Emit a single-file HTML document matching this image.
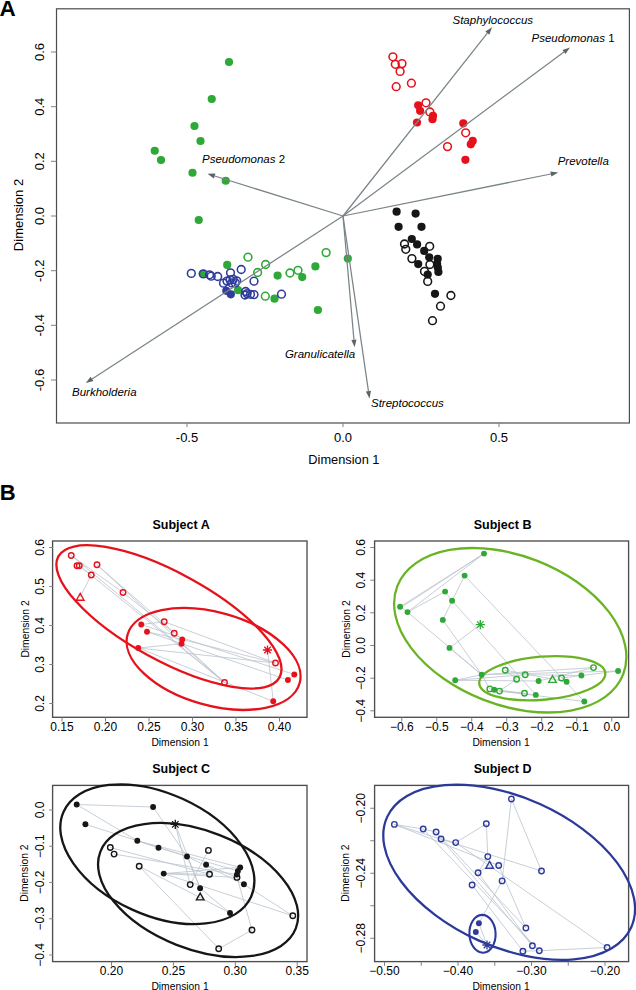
<!DOCTYPE html>
<html><head><meta charset="utf-8"><style>
html,body{margin:0;padding:0;background:#fff;}
body{width:636px;height:990px;overflow:hidden;}
svg{display:block;font-family:"Liberation Sans", sans-serif;}
</style></head><body>
<svg width="636" height="990" viewBox="0 0 636 990" font-family='"Liberation Sans", sans-serif'>
<rect width="636" height="990" fill="#fff"/>
<text x="-0.4" y="15.8" font-size="22.5" text-anchor="start" font-weight="bold" fill="#000">A</text>
<rect x="56.5" y="8.8" width="572.9" height="414.2" fill="none" stroke="#4d4d4d" stroke-width="1.2"/>
<line x1="51" y1="52" x2="56.5" y2="52" stroke="#7a8288" stroke-width="1"/>
<text x="44.3" y="52" font-size="13" text-anchor="middle" transform="rotate(-90 44.3 52)" fill="#000">0.6</text>
<line x1="51" y1="106.7" x2="56.5" y2="106.7" stroke="#7a8288" stroke-width="1"/>
<text x="44.3" y="106.7" font-size="13" text-anchor="middle" transform="rotate(-90 44.3 106.7)" fill="#000">0.4</text>
<line x1="51" y1="161.3" x2="56.5" y2="161.3" stroke="#7a8288" stroke-width="1"/>
<text x="44.3" y="161.3" font-size="13" text-anchor="middle" transform="rotate(-90 44.3 161.3)" fill="#000">0.2</text>
<line x1="51" y1="216" x2="56.5" y2="216" stroke="#7a8288" stroke-width="1"/>
<text x="44.3" y="216" font-size="13" text-anchor="middle" transform="rotate(-90 44.3 216)" fill="#000">0.0</text>
<line x1="51" y1="270.7" x2="56.5" y2="270.7" stroke="#7a8288" stroke-width="1"/>
<text x="44.3" y="270.7" font-size="13" text-anchor="middle" transform="rotate(-90 44.3 270.7)" fill="#000">-0.2</text>
<line x1="51" y1="325.3" x2="56.5" y2="325.3" stroke="#7a8288" stroke-width="1"/>
<text x="44.3" y="325.3" font-size="13" text-anchor="middle" transform="rotate(-90 44.3 325.3)" fill="#000">-0.4</text>
<line x1="51" y1="380" x2="56.5" y2="380" stroke="#7a8288" stroke-width="1"/>
<text x="44.3" y="380" font-size="13" text-anchor="middle" transform="rotate(-90 44.3 380)" fill="#000">-0.6</text>
<line x1="187" y1="423" x2="187" y2="427" stroke="#7a8288" stroke-width="1"/>
<text x="187" y="442" font-size="13" text-anchor="middle" fill="#000">-0.5</text>
<line x1="343" y1="423" x2="343" y2="427" stroke="#7a8288" stroke-width="1"/>
<text x="343" y="442" font-size="13" text-anchor="middle" fill="#000">0.0</text>
<line x1="499" y1="423" x2="499" y2="427" stroke="#7a8288" stroke-width="1"/>
<text x="499" y="442" font-size="13" text-anchor="middle" fill="#000">0.5</text>
<text x="343.9" y="463.7" font-size="12.8" text-anchor="middle" fill="#000">Dimension 1</text>
<text x="22.6" y="215" font-size="13" text-anchor="middle" transform="rotate(-90 22.6 215)" fill="#000">Dimension 2</text>
<circle cx="229" cy="62" r="4.1" fill="#2ea836"/>
<circle cx="211.75" cy="99" r="4.1" fill="#2ea836"/>
<circle cx="194.5" cy="126" r="4.1" fill="#2ea836"/>
<circle cx="200.5" cy="141" r="4.1" fill="#2ea836"/>
<circle cx="154.75" cy="150.75" r="4.1" fill="#2ea836"/>
<circle cx="161" cy="160" r="4.1" fill="#2ea836"/>
<circle cx="192.5" cy="172.75" r="4.1" fill="#2ea836"/>
<circle cx="225.75" cy="180.75" r="4.1" fill="#2ea836"/>
<circle cx="198.75" cy="220" r="4.1" fill="#2ea836"/>
<circle cx="227.2" cy="264.9" r="4.1" fill="#2ea836"/>
<circle cx="202.8" cy="273.8" r="4.1" fill="#2ea836"/>
<circle cx="238" cy="290.2" r="4.1" fill="#2ea836"/>
<circle cx="277.6" cy="275.6" r="4.1" fill="#2ea836"/>
<circle cx="302.2" cy="277.1" r="4.1" fill="#2ea836"/>
<circle cx="315.4" cy="266.4" r="4.1" fill="#2ea836"/>
<circle cx="274.5" cy="298.7" r="4.1" fill="#2ea836"/>
<circle cx="317.9" cy="310" r="4.1" fill="#2ea836"/>
<circle cx="347.8" cy="258.6" r="4.1" fill="#2ea836"/>
<circle cx="248" cy="257.2" r="3.875" fill="none" stroke="#2ea836" stroke-width="1.55"/>
<circle cx="265.6" cy="264.5" r="3.875" fill="none" stroke="#2ea836" stroke-width="1.55"/>
<circle cx="257.6" cy="272.5" r="3.875" fill="none" stroke="#2ea836" stroke-width="1.55"/>
<circle cx="290" cy="273" r="3.875" fill="none" stroke="#2ea836" stroke-width="1.55"/>
<circle cx="298" cy="270.3" r="3.875" fill="none" stroke="#2ea836" stroke-width="1.55"/>
<circle cx="265.3" cy="296.2" r="3.875" fill="none" stroke="#2ea836" stroke-width="1.55"/>
<circle cx="326.1" cy="252.6" r="3.875" fill="none" stroke="#2ea836" stroke-width="1.55"/>
<circle cx="191.3" cy="273.4" r="3.875" fill="none" stroke="#2f3c9c" stroke-width="1.55"/>
<circle cx="203.3" cy="273.9" r="3.875" fill="none" stroke="#2f3c9c" stroke-width="1.55"/>
<circle cx="209.5" cy="274.8" r="3.875" fill="none" stroke="#2f3c9c" stroke-width="1.55"/>
<circle cx="211.2" cy="276.2" r="3.875" fill="none" stroke="#2f3c9c" stroke-width="1.55"/>
<circle cx="217.7" cy="276.5" r="3.875" fill="none" stroke="#2f3c9c" stroke-width="1.55"/>
<circle cx="230.5" cy="272.8" r="3.875" fill="none" stroke="#2f3c9c" stroke-width="1.55"/>
<circle cx="241.2" cy="269.5" r="3.875" fill="none" stroke="#2f3c9c" stroke-width="1.55"/>
<circle cx="223.5" cy="283.2" r="3.875" fill="none" stroke="#2f3c9c" stroke-width="1.55"/>
<circle cx="227" cy="281.1" r="3.875" fill="none" stroke="#2f3c9c" stroke-width="1.55"/>
<circle cx="230.1" cy="279.8" r="3.875" fill="none" stroke="#2f3c9c" stroke-width="1.55"/>
<circle cx="233.2" cy="279.4" r="3.875" fill="none" stroke="#2f3c9c" stroke-width="1.55"/>
<circle cx="236.7" cy="280.8" r="3.875" fill="none" stroke="#2f3c9c" stroke-width="1.55"/>
<circle cx="235.3" cy="282.9" r="3.875" fill="none" stroke="#2f3c9c" stroke-width="1.55"/>
<circle cx="231.8" cy="282.9" r="3.875" fill="none" stroke="#2f3c9c" stroke-width="1.55"/>
<circle cx="254" cy="281.2" r="3.875" fill="none" stroke="#2f3c9c" stroke-width="1.55"/>
<circle cx="245.7" cy="291.5" r="3.875" fill="none" stroke="#2f3c9c" stroke-width="1.55"/>
<circle cx="247.1" cy="293.6" r="3.875" fill="none" stroke="#2f3c9c" stroke-width="1.55"/>
<circle cx="250.5" cy="294.3" r="3.875" fill="none" stroke="#2f3c9c" stroke-width="1.55"/>
<circle cx="254" cy="294.6" r="3.875" fill="none" stroke="#2f3c9c" stroke-width="1.55"/>
<circle cx="245" cy="295" r="3.875" fill="none" stroke="#2f3c9c" stroke-width="1.55"/>
<circle cx="281.5" cy="294.2" r="3.875" fill="none" stroke="#2f3c9c" stroke-width="1.55"/>
<circle cx="226.3" cy="290.8" r="4.1" fill="#2f3c9c"/>
<circle cx="230.8" cy="294.3" r="4.1" fill="#2f3c9c"/>
<circle cx="418.2" cy="105.3" r="4.1" fill="#e6121b"/>
<circle cx="420.1" cy="110.8" r="4.1" fill="#e6121b"/>
<circle cx="417" cy="122.5" r="4.1" fill="#e6121b"/>
<circle cx="433" cy="115.8" r="4.1" fill="#e6121b"/>
<circle cx="432.5" cy="119.2" r="4.1" fill="#e6121b"/>
<circle cx="463.3" cy="123.3" r="4.1" fill="#e6121b"/>
<circle cx="472.7" cy="140.9" r="4.1" fill="#e6121b"/>
<circle cx="470.8" cy="144.3" r="4.1" fill="#e6121b"/>
<circle cx="465.4" cy="159.8" r="4.1" fill="#e6121b"/>
<circle cx="392.9" cy="56.8" r="3.875" fill="none" stroke="#e6121b" stroke-width="1.55"/>
<circle cx="395.3" cy="64.3" r="3.875" fill="none" stroke="#e6121b" stroke-width="1.55"/>
<circle cx="402" cy="63.6" r="3.875" fill="none" stroke="#e6121b" stroke-width="1.55"/>
<circle cx="400.1" cy="71.4" r="3.875" fill="none" stroke="#e6121b" stroke-width="1.55"/>
<circle cx="396.2" cy="86.7" r="3.875" fill="none" stroke="#e6121b" stroke-width="1.55"/>
<circle cx="411.4" cy="83.2" r="3.875" fill="none" stroke="#e6121b" stroke-width="1.55"/>
<circle cx="426" cy="102.8" r="3.875" fill="none" stroke="#e6121b" stroke-width="1.55"/>
<circle cx="429.9" cy="112" r="3.875" fill="none" stroke="#e6121b" stroke-width="1.55"/>
<circle cx="465.7" cy="132.8" r="3.875" fill="none" stroke="#e6121b" stroke-width="1.55"/>
<circle cx="447.5" cy="146.6" r="3.875" fill="none" stroke="#e6121b" stroke-width="1.55"/>
<circle cx="396.6" cy="211.7" r="4.1" fill="#161616"/>
<circle cx="415.6" cy="213.6" r="4.1" fill="#161616"/>
<circle cx="398.6" cy="226.8" r="4.1" fill="#161616"/>
<circle cx="421.5" cy="226.8" r="4.1" fill="#161616"/>
<circle cx="411.8" cy="239" r="4.1" fill="#161616"/>
<circle cx="417.1" cy="244.4" r="4.1" fill="#161616"/>
<circle cx="424.2" cy="250.9" r="4.1" fill="#161616"/>
<circle cx="429.2" cy="257.3" r="4.1" fill="#161616"/>
<circle cx="418.2" cy="264.1" r="4.1" fill="#161616"/>
<circle cx="437.7" cy="258.8" r="4.1" fill="#161616"/>
<circle cx="437.1" cy="263.8" r="4.1" fill="#161616"/>
<circle cx="437.8" cy="267.5" r="4.1" fill="#161616"/>
<circle cx="438.4" cy="272" r="4.1" fill="#161616"/>
<circle cx="427.7" cy="274.5" r="4.1" fill="#161616"/>
<circle cx="435" cy="293.8" r="4.1" fill="#161616"/>
<circle cx="404.5" cy="244" r="3.875" fill="none" stroke="#161616" stroke-width="1.55"/>
<circle cx="405.8" cy="249.3" r="3.875" fill="none" stroke="#161616" stroke-width="1.55"/>
<circle cx="429.7" cy="246.3" r="3.875" fill="none" stroke="#161616" stroke-width="1.55"/>
<circle cx="411.9" cy="258.6" r="3.875" fill="none" stroke="#161616" stroke-width="1.55"/>
<circle cx="429.9" cy="264.5" r="3.875" fill="none" stroke="#161616" stroke-width="1.55"/>
<circle cx="424.5" cy="271.4" r="3.875" fill="none" stroke="#161616" stroke-width="1.55"/>
<circle cx="427.7" cy="281.4" r="3.875" fill="none" stroke="#161616" stroke-width="1.55"/>
<circle cx="450.9" cy="295.5" r="3.875" fill="none" stroke="#161616" stroke-width="1.55"/>
<circle cx="440.5" cy="306.2" r="3.875" fill="none" stroke="#161616" stroke-width="1.55"/>
<circle cx="432.5" cy="320.7" r="3.875" fill="none" stroke="#161616" stroke-width="1.55"/>
<line x1="343" y1="216" x2="487.35" y2="33.19" stroke="#7a8488" stroke-width="1.25"/>
<path d="M492.00,27.30 L489.39,34.80 L485.31,31.57 Z" fill="#5d6468"/>
<line x1="343" y1="216" x2="563.98" y2="51.97" stroke="#7a8488" stroke-width="1.25"/>
<path d="M570.00,47.50 L565.53,54.06 L562.43,49.88 Z" fill="#5d6468"/>
<line x1="343" y1="216" x2="550.85" y2="173.99" stroke="#7a8488" stroke-width="1.25"/>
<path d="M558.20,172.50 L551.36,176.53 L550.33,171.44 Z" fill="#5d6468"/>
<line x1="343" y1="216" x2="214.66" y2="175.98" stroke="#7a8488" stroke-width="1.25"/>
<path d="M207.50,173.75 L215.43,173.50 L213.89,178.46 Z" fill="#5d6468"/>
<line x1="343" y1="216" x2="92.04" y2="378.92" stroke="#7a8488" stroke-width="1.25"/>
<path d="M85.75,383.00 L90.62,376.74 L93.46,381.10 Z" fill="#5d6468"/>
<line x1="343" y1="216" x2="353.94" y2="339.73" stroke="#7a8488" stroke-width="1.25"/>
<path d="M354.60,347.20 L351.35,339.96 L356.53,339.50 Z" fill="#5d6468"/>
<line x1="343" y1="216" x2="368.42" y2="391.18" stroke="#7a8488" stroke-width="1.25"/>
<path d="M369.50,398.60 L365.85,391.55 L371.00,390.80 Z" fill="#5d6468"/>
<text x="452.5" y="24" font-size="11.5" text-anchor="start" font-style="italic" fill="#000">Staphylococcus</text>
<text x="531.5" y="41.8" font-size="11.5" font-style="italic">Pseudomonas<tspan font-style="normal"> 1</tspan></text>
<text x="557.7" y="164.8" font-size="11.5" text-anchor="start" font-style="italic" fill="#000">Prevotella</text>
<text x="202" y="163.3" font-size="11.5" font-style="italic">Pseudomonas<tspan font-style="normal"> 2</tspan></text>
<text x="72" y="395.5" font-size="11.5" text-anchor="start" font-style="italic" fill="#000">Burkholderia</text>
<text x="284.9" y="358.3" font-size="11.5" text-anchor="start" font-style="italic" fill="#000">Granulicatella</text>
<text x="371" y="406.7" font-size="11.5" text-anchor="start" font-style="italic" fill="#000">Streptococcus</text>
<text x="-0.2" y="500.1" font-size="22" text-anchor="start" font-weight="bold" fill="#000">B</text>
<text x="181.1" y="528.5" font-size="12.5" text-anchor="middle" font-weight="bold" fill="#000">Subject A</text>
<rect x="52.6" y="541.0" width="254.4" height="176.29999999999995" fill="none" stroke="#4d4d4d" stroke-width="1.35"/>
<line x1="62" y1="717.5" x2="62" y2="721.5" stroke="#7a8288" stroke-width="1"/>
<text x="62" y="730.5" font-size="12" text-anchor="middle" fill="#000">0.15</text>
<line x1="105.5" y1="717.5" x2="105.5" y2="721.5" stroke="#7a8288" stroke-width="1"/>
<text x="105.5" y="730.5" font-size="12" text-anchor="middle" fill="#000">0.20</text>
<line x1="149" y1="717.5" x2="149" y2="721.5" stroke="#7a8288" stroke-width="1"/>
<text x="149" y="730.5" font-size="12" text-anchor="middle" fill="#000">0.25</text>
<line x1="192.5" y1="717.5" x2="192.5" y2="721.5" stroke="#7a8288" stroke-width="1"/>
<text x="192.5" y="730.5" font-size="12" text-anchor="middle" fill="#000">0.30</text>
<line x1="236" y1="717.5" x2="236" y2="721.5" stroke="#7a8288" stroke-width="1"/>
<text x="236" y="730.5" font-size="12" text-anchor="middle" fill="#000">0.35</text>
<line x1="279.5" y1="717.5" x2="279.5" y2="721.5" stroke="#7a8288" stroke-width="1"/>
<text x="279.5" y="730.5" font-size="12" text-anchor="middle" fill="#000">0.40</text>
<line x1="49.3" y1="547.5" x2="53" y2="547.5" stroke="#7a8288" stroke-width="1"/>
<text x="43.7" y="547.5" font-size="12" text-anchor="middle" transform="rotate(-90 43.7 547.5)" fill="#000">0.6</text>
<line x1="49.3" y1="586.5" x2="53" y2="586.5" stroke="#7a8288" stroke-width="1"/>
<text x="43.7" y="586.5" font-size="12" text-anchor="middle" transform="rotate(-90 43.7 586.5)" fill="#000">0.5</text>
<line x1="49.3" y1="625.5" x2="53" y2="625.5" stroke="#7a8288" stroke-width="1"/>
<text x="43.7" y="625.5" font-size="12" text-anchor="middle" transform="rotate(-90 43.7 625.5)" fill="#000">0.4</text>
<line x1="49.3" y1="664.5" x2="53" y2="664.5" stroke="#7a8288" stroke-width="1"/>
<text x="43.7" y="664.5" font-size="12" text-anchor="middle" transform="rotate(-90 43.7 664.5)" fill="#000">0.3</text>
<line x1="49.3" y1="703.5" x2="53" y2="703.5" stroke="#7a8288" stroke-width="1"/>
<text x="43.7" y="703.5" font-size="12" text-anchor="middle" transform="rotate(-90 43.7 703.5)" fill="#000">0.2</text>
<text x="180.0" y="745.5" font-size="10.3" text-anchor="middle" fill="#000">Dimension 1</text>
<text x="28.5" y="629.0" font-size="10.3" text-anchor="middle" transform="rotate(-90 28.5 629.0)" fill="#000">Dimension 2</text>
<text x="502.6" y="528.5" font-size="12.5" text-anchor="middle" font-weight="bold" fill="#000">Subject B</text>
<rect x="374.6" y="541.0" width="254.0" height="176.29999999999995" fill="none" stroke="#4d4d4d" stroke-width="1.35"/>
<line x1="401.75" y1="717.5" x2="401.75" y2="721.5" stroke="#7a8288" stroke-width="1"/>
<text x="401.75" y="730.5" font-size="12" text-anchor="middle" fill="#000">−0.6</text>
<line x1="436.75" y1="717.5" x2="436.75" y2="721.5" stroke="#7a8288" stroke-width="1"/>
<text x="436.75" y="730.5" font-size="12" text-anchor="middle" fill="#000">−0.5</text>
<line x1="471.75" y1="717.5" x2="471.75" y2="721.5" stroke="#7a8288" stroke-width="1"/>
<text x="471.75" y="730.5" font-size="12" text-anchor="middle" fill="#000">−0.4</text>
<line x1="506.75" y1="717.5" x2="506.75" y2="721.5" stroke="#7a8288" stroke-width="1"/>
<text x="506.75" y="730.5" font-size="12" text-anchor="middle" fill="#000">−0.3</text>
<line x1="541.75" y1="717.5" x2="541.75" y2="721.5" stroke="#7a8288" stroke-width="1"/>
<text x="541.75" y="730.5" font-size="12" text-anchor="middle" fill="#000">−0.2</text>
<line x1="576.75" y1="717.5" x2="576.75" y2="721.5" stroke="#7a8288" stroke-width="1"/>
<text x="576.75" y="730.5" font-size="12" text-anchor="middle" fill="#000">−0.1</text>
<line x1="611.75" y1="717.5" x2="611.75" y2="721.5" stroke="#7a8288" stroke-width="1"/>
<text x="611.75" y="730.5" font-size="12" text-anchor="middle" fill="#000">0.0</text>
<line x1="370.3" y1="547.5" x2="374" y2="547.5" stroke="#7a8288" stroke-width="1"/>
<text x="364.7" y="547.5" font-size="12" text-anchor="middle" transform="rotate(-90 364.7 547.5)" fill="#000">0.6</text>
<line x1="370.3" y1="580.2" x2="374" y2="580.2" stroke="#7a8288" stroke-width="1"/>
<text x="364.7" y="580.2" font-size="12" text-anchor="middle" transform="rotate(-90 364.7 580.2)" fill="#000">0.4</text>
<line x1="370.3" y1="612.8" x2="374" y2="612.8" stroke="#7a8288" stroke-width="1"/>
<text x="364.7" y="612.8" font-size="12" text-anchor="middle" transform="rotate(-90 364.7 612.8)" fill="#000">0.2</text>
<line x1="370.3" y1="645.5" x2="374" y2="645.5" stroke="#7a8288" stroke-width="1"/>
<text x="364.7" y="645.5" font-size="12" text-anchor="middle" transform="rotate(-90 364.7 645.5)" fill="#000">0.0</text>
<line x1="370.3" y1="678.2" x2="374" y2="678.2" stroke="#7a8288" stroke-width="1"/>
<text x="364.7" y="678.2" font-size="12" text-anchor="middle" transform="rotate(-90 364.7 678.2)" fill="#000">−0.2</text>
<line x1="370.3" y1="710.8" x2="374" y2="710.8" stroke="#7a8288" stroke-width="1"/>
<text x="364.7" y="710.8" font-size="12" text-anchor="middle" transform="rotate(-90 364.7 710.8)" fill="#000">−0.4</text>
<text x="501.0" y="745.5" font-size="10.3" text-anchor="middle" fill="#000">Dimension 1</text>
<text x="349.5" y="629.0" font-size="10.3" text-anchor="middle" transform="rotate(-90 349.5 629.0)" fill="#000">Dimension 2</text>
<text x="181.1" y="772.5" font-size="12.5" text-anchor="middle" font-weight="bold" fill="#000">Subject C</text>
<rect x="52.6" y="785.4" width="254.4" height="176.20000000000005" fill="none" stroke="#4d4d4d" stroke-width="1.35"/>
<line x1="111.5" y1="961.8" x2="111.5" y2="965.8" stroke="#7a8288" stroke-width="1"/>
<text x="111.5" y="974.8" font-size="12" text-anchor="middle" fill="#000">0.20</text>
<line x1="173.4" y1="961.8" x2="173.4" y2="965.8" stroke="#7a8288" stroke-width="1"/>
<text x="173.4" y="974.8" font-size="12" text-anchor="middle" fill="#000">0.25</text>
<line x1="235.3" y1="961.8" x2="235.3" y2="965.8" stroke="#7a8288" stroke-width="1"/>
<text x="235.3" y="974.8" font-size="12" text-anchor="middle" fill="#000">0.30</text>
<line x1="297.2" y1="961.8" x2="297.2" y2="965.8" stroke="#7a8288" stroke-width="1"/>
<text x="297.2" y="974.8" font-size="12" text-anchor="middle" fill="#000">0.35</text>
<line x1="49.3" y1="810" x2="53" y2="810" stroke="#7a8288" stroke-width="1"/>
<text x="43.7" y="810" font-size="12" text-anchor="middle" transform="rotate(-90 43.7 810)" fill="#000">0.0</text>
<line x1="49.3" y1="846.25" x2="53" y2="846.25" stroke="#7a8288" stroke-width="1"/>
<text x="43.7" y="846.25" font-size="12" text-anchor="middle" transform="rotate(-90 43.7 846.25)" fill="#000">−0.1</text>
<line x1="49.3" y1="882.5" x2="53" y2="882.5" stroke="#7a8288" stroke-width="1"/>
<text x="43.7" y="882.5" font-size="12" text-anchor="middle" transform="rotate(-90 43.7 882.5)" fill="#000">−0.2</text>
<line x1="49.3" y1="918.75" x2="53" y2="918.75" stroke="#7a8288" stroke-width="1"/>
<text x="43.7" y="918.75" font-size="12" text-anchor="middle" transform="rotate(-90 43.7 918.75)" fill="#000">−0.3</text>
<line x1="49.3" y1="955" x2="53" y2="955" stroke="#7a8288" stroke-width="1"/>
<text x="43.7" y="955" font-size="12" text-anchor="middle" transform="rotate(-90 43.7 955)" fill="#000">−0.4</text>
<text x="180.0" y="989.8" font-size="10.3" text-anchor="middle" fill="#000">Dimension 1</text>
<text x="28.5" y="873.15" font-size="10.3" text-anchor="middle" transform="rotate(-90 28.5 873.15)" fill="#000">Dimension 2</text>
<text x="502.6" y="772.5" font-size="12.5" text-anchor="middle" font-weight="bold" fill="#000">Subject D</text>
<rect x="374.6" y="785.4" width="254.0" height="176.20000000000005" fill="none" stroke="#4d4d4d" stroke-width="1.35"/>
<line x1="384.5" y1="961.8" x2="384.5" y2="965.8" stroke="#7a8288" stroke-width="1"/>
<text x="384.5" y="974.8" font-size="12" text-anchor="middle" fill="#000">−0.50</text>
<line x1="421.25" y1="961.8" x2="421.25" y2="965.8" stroke="#7a8288" stroke-width="1"/>
<line x1="458" y1="961.8" x2="458" y2="965.8" stroke="#7a8288" stroke-width="1"/>
<text x="458" y="974.8" font-size="12" text-anchor="middle" fill="#000">−0.40</text>
<line x1="494.75" y1="961.8" x2="494.75" y2="965.8" stroke="#7a8288" stroke-width="1"/>
<line x1="531.5" y1="961.8" x2="531.5" y2="965.8" stroke="#7a8288" stroke-width="1"/>
<text x="531.5" y="974.8" font-size="12" text-anchor="middle" fill="#000">−0.30</text>
<line x1="568.25" y1="961.8" x2="568.25" y2="965.8" stroke="#7a8288" stroke-width="1"/>
<line x1="605" y1="961.8" x2="605" y2="965.8" stroke="#7a8288" stroke-width="1"/>
<text x="605" y="974.8" font-size="12" text-anchor="middle" fill="#000">−0.20</text>
<line x1="370.3" y1="808.25" x2="374" y2="808.25" stroke="#7a8288" stroke-width="1"/>
<text x="364.7" y="808.25" font-size="12" text-anchor="middle" transform="rotate(-90 364.7 808.25)" fill="#000">−0.20</text>
<line x1="370.3" y1="840.75" x2="374" y2="840.75" stroke="#7a8288" stroke-width="1"/>
<line x1="370.3" y1="873.25" x2="374" y2="873.25" stroke="#7a8288" stroke-width="1"/>
<text x="364.7" y="873.25" font-size="12" text-anchor="middle" transform="rotate(-90 364.7 873.25)" fill="#000">−0.24</text>
<line x1="370.3" y1="905.75" x2="374" y2="905.75" stroke="#7a8288" stroke-width="1"/>
<line x1="370.3" y1="938.25" x2="374" y2="938.25" stroke="#7a8288" stroke-width="1"/>
<text x="364.7" y="938.25" font-size="12" text-anchor="middle" transform="rotate(-90 364.7 938.25)" fill="#000">−0.28</text>
<text x="501.0" y="989.8" font-size="10.3" text-anchor="middle" fill="#000">Dimension 1</text>
<text x="349.5" y="873.15" font-size="10.3" text-anchor="middle" transform="rotate(-90 349.5 873.15)" fill="#000">Dimension 2</text>
<path d="M80.2,596.8 L91.25,575 M91.25,575 L79.25,565.75 M79.25,565.75 L224.5,682.5 M71.25,555.5 L123,592.5 M123,592.5 L174.25,633.25 M97,564.75 L224.5,682.5 M71.25,555.5 L224.5,682.5 M164.25,621.75 L141.25,624.5 M164.25,621.75 L275.5,663 M141.25,624.5 L294.3,674.5 M147,631.75 L182.25,639.5 M147,631.75 L287.9,680 M138.25,648 L181.5,643.75 M138.25,648 L275.5,663 M138.25,648 L273.25,701.3 M182.25,639.5 L275.5,663 M267.5,650 L273.25,701.3 M181.5,643.75 L224.5,682.5 M287.9,680 L294.3,674.5 M97,564.75 L182.25,639.5" stroke="#bac3cd" stroke-width="0.8" fill="none"/>
<ellipse cx="168.95" cy="616.89" rx="126.03" ry="43.82" transform="rotate(28.67 168.95 616.89)" fill="none" stroke="#e6121b" stroke-width="2.3"/>
<ellipse cx="213.56" cy="658.95" rx="89.39" ry="46.51" transform="rotate(15.74 213.56 658.95)" fill="none" stroke="#e6121b" stroke-width="2.3"/>
<circle cx="71.25" cy="555.5" r="2.75" fill="none" stroke="#e6121b" stroke-width="1.4"/>
<circle cx="77" cy="565.75" r="2.75" fill="none" stroke="#e6121b" stroke-width="1.4"/>
<circle cx="79.25" cy="565.75" r="2.75" fill="none" stroke="#e6121b" stroke-width="1.4"/>
<circle cx="97" cy="564.75" r="2.75" fill="none" stroke="#e6121b" stroke-width="1.4"/>
<circle cx="91.25" cy="575" r="2.75" fill="none" stroke="#e6121b" stroke-width="1.4"/>
<circle cx="123" cy="592.5" r="2.75" fill="none" stroke="#e6121b" stroke-width="1.4"/>
<circle cx="164.25" cy="621.75" r="2.75" fill="none" stroke="#e6121b" stroke-width="1.4"/>
<circle cx="174.25" cy="633.25" r="2.75" fill="none" stroke="#e6121b" stroke-width="1.4"/>
<circle cx="275.5" cy="663" r="2.75" fill="none" stroke="#e6121b" stroke-width="1.4"/>
<circle cx="224.5" cy="682.5" r="2.75" fill="none" stroke="#e6121b" stroke-width="1.4"/>
<circle cx="141.25" cy="624.5" r="2.95" fill="#e6121b"/>
<circle cx="147" cy="631.75" r="2.95" fill="#e6121b"/>
<circle cx="138.25" cy="648" r="2.95" fill="#e6121b"/>
<circle cx="182.25" cy="639.5" r="2.95" fill="#e6121b"/>
<circle cx="181.5" cy="643.75" r="2.95" fill="#e6121b"/>
<circle cx="294.3" cy="674.5" r="2.95" fill="#e6121b"/>
<circle cx="287.9" cy="680" r="2.95" fill="#e6121b"/>
<circle cx="273.25" cy="701.3" r="2.95" fill="#e6121b"/>
<path d="M76.40,600.22 L80.20,593.38 L84.00,600.22 Z" fill="none" stroke="#e6121b" stroke-width="1.4" stroke-linejoin="miter"/>
<path d="M262.90,650.00 L272.10,650.00 M264.25,646.75 L270.75,653.25 M267.50,645.40 L267.50,654.60 M270.75,646.75 L264.25,653.25 " stroke="#e6121b" stroke-width="1.3" fill="none"/>
<path d="M400.1,606.8 L484,553.6 M401,607.5 L484,553.6 M407.5,612.1 L484,553.6 M407.5,612.1 L445.1,591.6 M400.1,606.8 L407.5,612.1 M445.1,591.6 L452.1,600.8 M464.6,575.6 L452.1,600.8 M464.6,575.6 L584.3,701.5 M452.1,600.8 L442.8,619.9 M452.1,600.8 L535.8,694.9 M442.8,619.9 L481.7,674.7 M449.5,647.9 L480.3,624.6 M449.5,647.9 L481.7,674.7 M407.5,612.1 L481.7,674.7 M455.2,680.3 L481.7,674.7 M455.2,680.3 L525.2,674.7 M455.2,680.3 L538.6,681 M481.7,674.7 L593.5,667.6 M481.7,674.7 L618.1,671 M505.3,670.2 L566.6,681.8 M516.6,679.2 L505.3,670.2 M489.8,688.9 L535.8,694.9 M499.5,691.1 L584.3,701.5 M524.5,693.2 L499.5,691.1 M525.2,674.7 L581.4,675.5 M538.6,681 L593.5,667.6 M561.5,678 L618.1,671 M481.7,674.7 L489.8,688.9 M516.6,679.2 L499.5,691.1" stroke="#bac3cd" stroke-width="0.8" fill="none"/>
<ellipse cx="510.24" cy="630.26" rx="121.24" ry="74.51" transform="rotate(21.35 510.24 630.26)" fill="none" stroke="#6ab423" stroke-width="2.3"/>
<ellipse cx="542.26" cy="678.24" rx="63.23" ry="21.59" transform="rotate(-4.81 542.26 678.24)" fill="none" stroke="#6ab423" stroke-width="2.3"/>
<circle cx="484" cy="553.6" r="2.95" fill="#2ea836"/>
<circle cx="464.6" cy="575.6" r="2.95" fill="#2ea836"/>
<circle cx="445.1" cy="591.6" r="2.95" fill="#2ea836"/>
<circle cx="452.1" cy="600.8" r="2.95" fill="#2ea836"/>
<circle cx="400.1" cy="606.8" r="2.95" fill="#2ea836"/>
<circle cx="407.5" cy="612.1" r="2.95" fill="#2ea836"/>
<circle cx="442.8" cy="619.9" r="2.95" fill="#2ea836"/>
<circle cx="449.5" cy="647.9" r="2.95" fill="#2ea836"/>
<circle cx="455.2" cy="680.3" r="2.95" fill="#2ea836"/>
<circle cx="481.7" cy="674.7" r="2.95" fill="#2ea836"/>
<circle cx="538.6" cy="681" r="2.95" fill="#2ea836"/>
<circle cx="566.6" cy="681.8" r="2.95" fill="#2ea836"/>
<circle cx="581.4" cy="675.5" r="2.95" fill="#2ea836"/>
<circle cx="618.1" cy="671" r="2.95" fill="#2ea836"/>
<circle cx="494.3" cy="689.8" r="2.95" fill="#2ea836"/>
<circle cx="535.8" cy="694.9" r="2.95" fill="#2ea836"/>
<circle cx="584.3" cy="701.5" r="2.95" fill="#2ea836"/>
<circle cx="505.3" cy="670.2" r="2.75" fill="none" stroke="#2ea836" stroke-width="1.4"/>
<circle cx="516.6" cy="679.2" r="2.75" fill="none" stroke="#2ea836" stroke-width="1.4"/>
<circle cx="525.2" cy="674.7" r="2.75" fill="none" stroke="#2ea836" stroke-width="1.4"/>
<circle cx="561.5" cy="678" r="2.75" fill="none" stroke="#2ea836" stroke-width="1.4"/>
<circle cx="593.5" cy="667.6" r="2.75" fill="none" stroke="#2ea836" stroke-width="1.4"/>
<circle cx="489.8" cy="688.9" r="2.75" fill="none" stroke="#2ea836" stroke-width="1.4"/>
<circle cx="499.5" cy="691.1" r="2.75" fill="none" stroke="#2ea836" stroke-width="1.4"/>
<circle cx="524.5" cy="693.2" r="2.75" fill="none" stroke="#2ea836" stroke-width="1.4"/>
<path d="M548.70,682.42 L552.50,675.58 L556.30,682.42 Z" fill="none" stroke="#2ea836" stroke-width="1.4" stroke-linejoin="miter"/>
<path d="M475.70,624.60 L484.90,624.60 M477.05,621.35 L483.55,627.85 M480.30,620.00 L480.30,629.20 M483.55,621.35 L477.05,627.85 " stroke="#2ea836" stroke-width="1.3" fill="none"/>
<path d="M76.7,804.5 L153.1,807 M153.1,807 L187,856.5 M76.7,804.5 L137.3,840.8 M137.3,840.8 L158.5,847.7 M163.7,873.6 L240.2,867.4 M85.4,824.3 L187,856.5 M137.3,840.8 L240.2,867.4 M158.5,847.7 L237.9,871 M110.3,847.5 L209.5,874.2 M114.1,854.1 L236.9,874.6 M139.2,866.3 L219,948.8 M139.2,866.3 L230,913 M175.3,824.4 L200.1,888.2 M175.3,824.4 L190.2,884.6 M208.4,850.4 L190.2,884.6 M187,856.5 L243.9,884.3 M163.7,873.6 L237,877.4 M163.7,873.6 L292.8,915.8 M243.9,884.3 L292.8,915.8 M237,877.4 L252,930 M252,930 L218.7,948.8 M200.1,888.2 L230,913 M206.1,864.8 L237,877.4 M209.5,874.2 L163.7,873.6 M187,856.5 L200.1,888.2" stroke="#bac3cd" stroke-width="0.8" fill="none"/>
<ellipse cx="157.35" cy="854.2" rx="102.95" ry="60.84" transform="rotate(24.4 157.35 854.2)" fill="none" stroke="#161616" stroke-width="2.3"/>
<ellipse cx="198.1" cy="890.0" rx="105.0" ry="58.9" transform="rotate(21.48 198.1 890.0)" fill="none" stroke="#161616" stroke-width="2.3"/>
<circle cx="76.7" cy="804.5" r="2.95" fill="#161616"/>
<circle cx="153.1" cy="807" r="2.95" fill="#161616"/>
<circle cx="85.4" cy="824.3" r="2.95" fill="#161616"/>
<circle cx="137.3" cy="840.8" r="2.95" fill="#161616"/>
<circle cx="158.5" cy="847.7" r="2.95" fill="#161616"/>
<circle cx="187" cy="856.5" r="2.95" fill="#161616"/>
<circle cx="163.7" cy="873.6" r="2.95" fill="#161616"/>
<circle cx="206.1" cy="864.8" r="2.95" fill="#161616"/>
<circle cx="240.2" cy="867.4" r="2.95" fill="#161616"/>
<circle cx="237.9" cy="871" r="2.95" fill="#161616"/>
<circle cx="236.9" cy="874.6" r="2.95" fill="#161616"/>
<circle cx="243.9" cy="884.3" r="2.95" fill="#161616"/>
<circle cx="200.1" cy="888.2" r="2.95" fill="#161616"/>
<circle cx="230" cy="913" r="2.95" fill="#161616"/>
<circle cx="110.3" cy="847.5" r="2.75" fill="none" stroke="#161616" stroke-width="1.4"/>
<circle cx="114.1" cy="854.1" r="2.75" fill="none" stroke="#161616" stroke-width="1.4"/>
<circle cx="139.2" cy="866.3" r="2.75" fill="none" stroke="#161616" stroke-width="1.4"/>
<circle cx="190.2" cy="884.6" r="2.75" fill="none" stroke="#161616" stroke-width="1.4"/>
<circle cx="208.4" cy="850.4" r="2.75" fill="none" stroke="#161616" stroke-width="1.4"/>
<circle cx="209.5" cy="874.2" r="2.75" fill="none" stroke="#161616" stroke-width="1.4"/>
<circle cx="237" cy="877.4" r="2.75" fill="none" stroke="#161616" stroke-width="1.4"/>
<circle cx="292.8" cy="915.8" r="2.75" fill="none" stroke="#161616" stroke-width="1.4"/>
<circle cx="252" cy="930" r="2.75" fill="none" stroke="#161616" stroke-width="1.4"/>
<circle cx="218.7" cy="948.8" r="2.75" fill="none" stroke="#161616" stroke-width="1.4"/>
<path d="M196.40,899.92 L200.20,893.08 L204.00,899.92 Z" fill="none" stroke="#161616" stroke-width="1.4" stroke-linejoin="miter"/>
<path d="M170.70,824.40 L179.90,824.40 M172.05,821.15 L178.55,827.65 M175.30,819.80 L175.30,829.00 M178.55,821.15 L172.05,827.65 " stroke="#161616" stroke-width="1.3" fill="none"/>
<path d="M394.4,824.4 L423.2,829 M423.2,829 L436.1,832 M436.1,832 L441.1,839 M441.1,839 L455.7,842.6 M455.7,842.6 L486.3,823.8 M486.3,823.8 L487.8,856.6 M394.4,824.4 L498.7,865.5 M394.4,824.4 L541.5,871 M436.1,832 L525.9,928 M441.1,839 L532.4,945.7 M511.4,799 L541.5,871 M511.4,799 L502.1,880.9 M478.1,872.8 L532.4,945.7 M472.1,885 L522.9,951.2 M502.1,880.9 L478.9,923.2 M522.9,951.2 L539.3,950.7 M539.3,950.7 L607.1,947.5 M455.7,842.6 L607.1,947.5 M478.9,923.2 L487,945 M475.8,932 L487,945 M423.2,829 L539.3,950.7 M498.7,865.5 L525.9,928 M478.1,872.8 L487.8,856.6 M489.6,864.8 L478.1,872.8" stroke="#bac3cd" stroke-width="0.8" fill="none"/>
<ellipse cx="509.17" cy="872.19" rx="133.92" ry="74.78" transform="rotate(24.27 509.17 872.19)" fill="none" stroke="#2b3a9a" stroke-width="2.3"/>
<ellipse cx="482.5" cy="933.8" rx="13.1" ry="18.9" transform="rotate(-2 482.5 933.8)" fill="none" stroke="#2b3a9a" stroke-width="2.1"/>
<circle cx="394.4" cy="824.4" r="2.75" fill="none" stroke="#2f3c9c" stroke-width="1.4"/>
<circle cx="423.2" cy="829" r="2.75" fill="none" stroke="#2f3c9c" stroke-width="1.4"/>
<circle cx="436.1" cy="832" r="2.75" fill="none" stroke="#2f3c9c" stroke-width="1.4"/>
<circle cx="441.1" cy="839" r="2.75" fill="none" stroke="#2f3c9c" stroke-width="1.4"/>
<circle cx="455.7" cy="842.6" r="2.75" fill="none" stroke="#2f3c9c" stroke-width="1.4"/>
<circle cx="486.3" cy="823.8" r="2.75" fill="none" stroke="#2f3c9c" stroke-width="1.4"/>
<circle cx="487.8" cy="856.6" r="2.75" fill="none" stroke="#2f3c9c" stroke-width="1.4"/>
<circle cx="478.1" cy="872.8" r="2.75" fill="none" stroke="#2f3c9c" stroke-width="1.4"/>
<circle cx="472.1" cy="885" r="2.75" fill="none" stroke="#2f3c9c" stroke-width="1.4"/>
<circle cx="498.7" cy="865.5" r="2.75" fill="none" stroke="#2f3c9c" stroke-width="1.4"/>
<circle cx="511.4" cy="799" r="2.75" fill="none" stroke="#2f3c9c" stroke-width="1.4"/>
<circle cx="541.5" cy="871" r="2.75" fill="none" stroke="#2f3c9c" stroke-width="1.4"/>
<circle cx="502.1" cy="880.9" r="2.75" fill="none" stroke="#2f3c9c" stroke-width="1.4"/>
<circle cx="525.9" cy="928" r="2.75" fill="none" stroke="#2f3c9c" stroke-width="1.4"/>
<circle cx="532.4" cy="945.7" r="2.75" fill="none" stroke="#2f3c9c" stroke-width="1.4"/>
<circle cx="522.9" cy="951.2" r="2.75" fill="none" stroke="#2f3c9c" stroke-width="1.4"/>
<circle cx="539.3" cy="950.7" r="2.75" fill="none" stroke="#2f3c9c" stroke-width="1.4"/>
<circle cx="607.1" cy="947.5" r="2.75" fill="none" stroke="#2f3c9c" stroke-width="1.4"/>
<circle cx="478.9" cy="923.2" r="2.95" fill="#2f3c9c"/>
<circle cx="475.8" cy="932" r="2.95" fill="#2f3c9c"/>
<path d="M485.80,868.22 L489.60,861.38 L493.40,868.22 Z" fill="none" stroke="#2f3c9c" stroke-width="1.4" stroke-linejoin="miter"/>
<path d="M482.40,945.00 L491.60,945.00 M483.75,941.75 L490.25,948.25 M487.00,940.40 L487.00,949.60 M490.25,941.75 L483.75,948.25 " stroke="#2f3c9c" stroke-width="1.3" fill="none"/>
</svg>
</body></html>
